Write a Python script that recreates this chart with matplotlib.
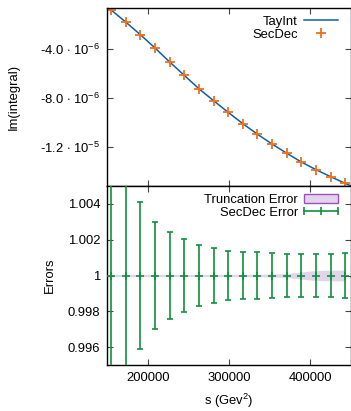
import numpy as np
import matplotlib
matplotlib.use("Agg")
import matplotlib.pyplot as plt
from matplotlib.lines import Line2D
from matplotlib.patches import Patch
from matplotlib.legend_handler import HandlerLine2D

plt.rcParams['font.family'] = ['Liberation Sans', 'DejaVu Sans']
plt.rcParams['mathtext.fontset'] = 'custom'
plt.rcParams['mathtext.rm'] = 'Liberation Sans'
plt.rcParams['mathtext.it'] = 'Liberation Sans:italic'
plt.rcParams['axes.unicode_minus'] = False
plt.rcParams['font.size'] = 9.4

# SecDec points (s in GeV^2) and Im(integral)
s_secdec = [155000, 173000, 191000, 209000, 227000, 245000, 263000, 281000, 299000,
            317000, 335000, 353000, 371000, 389000, 407000, 425000, 443000]
im_secdec = [-0.77e-6, -1.76e-6, -2.80e-6, -3.89e-6, -5.04e-6, -6.14e-6, -7.24e-6,
             -8.22e-6, -9.18e-6, -10.11e-6, -10.98e-6, -11.78e-6, -12.54e-6,
             -13.26e-6, -13.89e-6, -14.47e-6, -15.01e-6]

# TayInt curve (same points plus the range ends)
s_tayint = [150000] + s_secdec + [450000]
im_tayint = [-0.61e-6] + im_secdec + [-15.23e-6]

# ratio panel: SecDec relative error and truncation error half-widths
secdec_err = [0.0120, 0.0065, 0.00412, 0.00298, 0.00242, 0.00202, 0.00173, 0.00154,
              0.00139, 0.00133, 0.00130, 0.00126, 0.00121, 0.00119, 0.00121,
              0.00122, 0.00123]
trunc_err = [0.00006, 0.00006, 0.00006, 0.00006, 0.00006, 0.00006, 0.00006, 0.00006,
             0.00006, 0.00006, 0.00007, 0.00008, 0.00011, 0.00020, 0.00028,
             0.00030, 0.00030]

blue = '#1060a0'
orange = '#f07020'
green = '#119040'
purple_face = '#e2d4ea'
purple_edge = '#9a50b8'

fig = plt.figure(figsize=(3.51, 4.11), dpi=100)
W, H = 351.0, 411.0
ax1 = fig.add_axes([107 / W, (H - 186) / H, (351 - 107) / W, 178 / H])
ax2 = fig.add_axes([107 / W, (H - 365) / H, (351 - 107) / W, 179 / H])

for ax in (ax1, ax2):
    ax.tick_params(direction='in', top=True, right=True, length=4.5, width=0.8,
                   pad=5, color='#444444')
    for sp in ax.spines.values():
        sp.set_linewidth(1.0)
    ax.set_xlim(150000, 450000)
    ax.set_xticks([200000, 300000, 400000])

# top panel
ax1.plot(s_tayint, im_tayint, color=blue, lw=1.1, label='TayInt')
ax1.plot(s_secdec, im_secdec, ls='none', marker='+', ms=7, mew=1.3, color=orange,
         label='SecDec')
ax1.set_ylim(-1.523e-5, -0.61e-6)
ax1.set_yticks([-4e-6, -8e-6, -1.2e-5])
ax1.set_yticklabels([r'-4.0 $\cdot$ 10$^{-6}$', r'-8.0 $\cdot$ 10$^{-6}$',
                     r'-1.2 $\cdot$ 10$^{-5}$'])
ax1.tick_params(labelbottom=False)
ax1.set_ylabel('Im(integral)')
ax1.yaxis.set_label_coords(-(107 - 20) / 244, 0.5)
ax1.legend(loc='upper right', frameon=False, markerfirst=False, handlelength=2.6,
           handletextpad=0.5, borderaxespad=0.2, labelspacing=0.05,
           bbox_to_anchor=(0.98, 1.0))

# bottom panel
tr = np.array(trunc_err)
ax2.fill_between(s_secdec, 1 - tr, 1 + tr, color=purple_face, lw=0, zorder=1)
ax2.errorbar(s_secdec, np.ones(len(s_secdec)), yerr=secdec_err, fmt='+', ms=6,
             mew=1.2, color=green, elinewidth=1.2, capsize=2.5, capthick=1.2,
             zorder=3)
ax2.set_ylim(0.995, 1.005)
ax2.set_yticks([0.996, 0.998, 1.0, 1.002, 1.004])
ax2.set_yticklabels(['0.996', '0.998', '1', '1.002', '1.004'])
ax2.set_xticklabels(['200000', '300000', '400000'])
ax2.set_ylabel('Errors')
ax2.yaxis.set_label_coords(-(107 - 56) / 244, 0.5)
ax2.set_xlabel(r's (Gev$^2$)', labelpad=6)

h_trunc = Patch(facecolor=purple_face, edgecolor=purple_edge, lw=1.0)
h_err = Line2D([], [], color=green, lw=1.2, marker='|', ms=6, mew=1.2)
ax2.legend([h_trunc, h_err], ['Truncation Error', 'SecDec Error'], loc='upper right',
           frameon=False, markerfirst=False, handlelength=2.6, handletextpad=0.5,
           borderaxespad=0.2, labelspacing=0.05, bbox_to_anchor=(0.98, 1.0),
           handler_map={h_err: HandlerLine2D(numpoints=3, marker_pad=0)})

fig.savefig('out.png', dpi=100)
